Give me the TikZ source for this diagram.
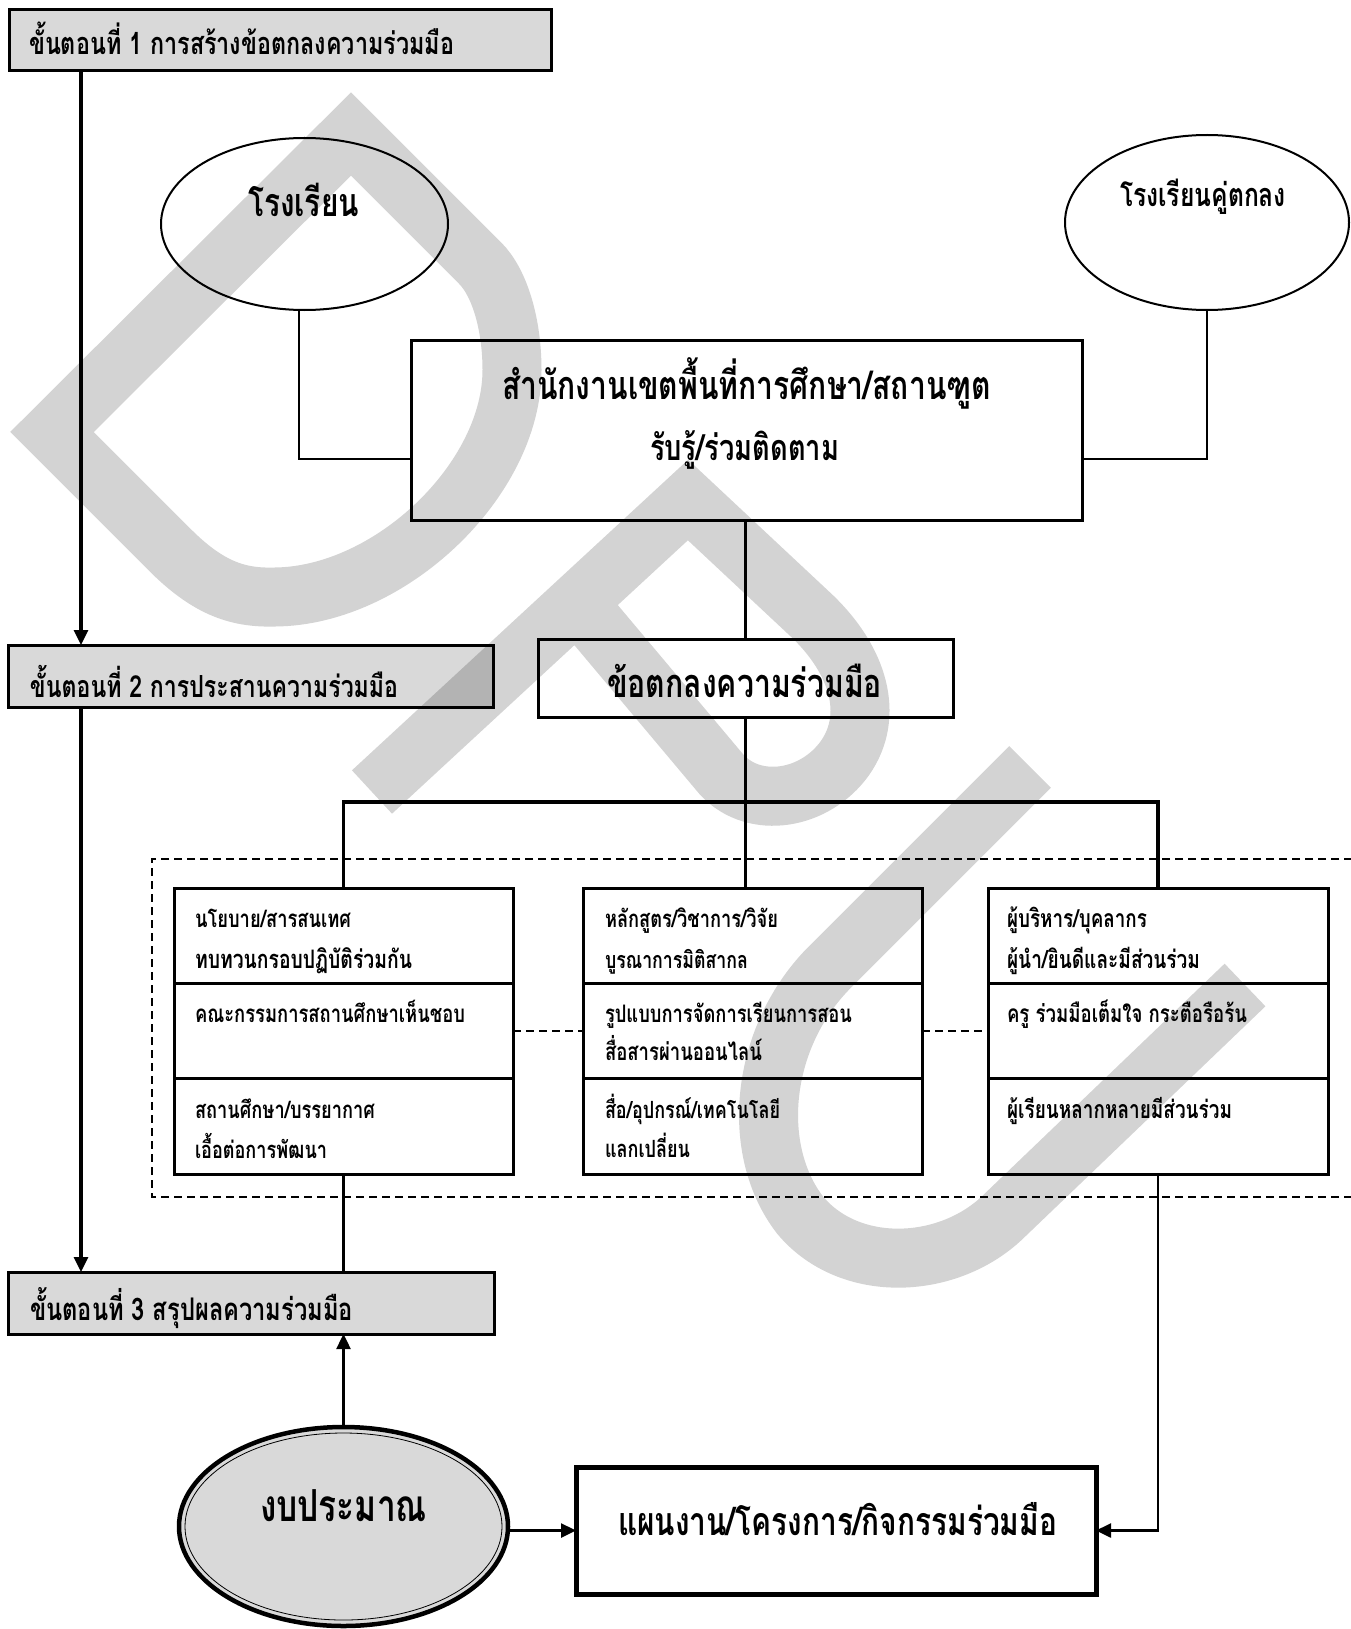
\documentclass[tikz,border=0pt]{standalone}
\usepackage{fontspec}
\usepackage{graphicx}
\usetikzlibrary{arrows.meta,shapes.geometric}
\newfontfamily\thaifont[Script=Thai,FakeStretch=0.76]{Loma}
\newcommand{\fitw}[2]{\resizebox{#1pt}{!}{\thaifont\bfseries #2}}
\definecolor{wm}{RGB}{211,211,211}
\definecolor{bud}{RGB}{217,217,217}
\tikzset{
  box/.style={draw, rectangle, inner sep=0pt, outer sep=0pt, line width=3pt},
  stepbox/.style={box, fill=black, fill opacity=0.15},
  ell/.style={draw, ellipse, inner sep=0pt, outer sep=0pt, line width=2pt},
  txt/.style={anchor=base west, inner sep=0pt, outer sep=0pt},
  wmline/.style={draw=wm, line width=59pt, line join=miter, line cap=butt},
  conn/.style={line width=3.2pt},
  thinc/.style={line width=1.6pt},
  dline/.style={line width=1.5pt, dash pattern=on 8pt off 5pt},
  arr/.style={-{Triangle[length=15pt,width=14pt]}}
}
\begin{document}
\begin{tikzpicture}[x=1pt,y=-1pt]
\fill[white] (0,0) rectangle (1350,1629);
\useasboundingbox (0,0) rectangle (1350,1629);

% watermark
\draw[wmline] (52,432) -- (170,550) .. controls (210,590) and (240,598) .. (275,597) .. controls (390,596) and (512,480) .. (512,370) .. controls (512,325) and (500,283) .. (480,263) -- (351,134) -- cycle;
\draw[wmline] (372,792) -- (688,500) -- (812,616) .. controls (858,660) and (875,715) .. (845,758) .. controls (815,800) and (755,810) .. (722,775) -- (575,600);
\draw[wmline] (1030,767) -- (827,970) .. controls (760,1040) and (750,1150) .. (800,1215) .. controls (850,1275) and (950,1270) .. (1005,1215) -- (1245,985);

% boxes
\node[stepbox, minimum width=542pt, minimum height=61pt] (s1) at (280,40.5) {};
\node[stepbox, minimum width=485pt, minimum height=62pt] (s2) at (250.5,676) {};
\node[stepbox, minimum width=486pt, minimum height=62pt] (s3) at (251,1303) {};
\node[ell, minimum width=287pt, minimum height=172pt] (school) at (304.5,224) {};
\node[ell, minimum width=284pt, minimum height=175pt] (partner) at (1207,222.5) {};
\node[box, minimum width=671pt, minimum height=180pt] (office) at (746.5,430) {};
\node[box, minimum width=415pt, minimum height=78pt] (agree) at (745.5,678) {};
\node[box, minimum width=339pt, minimum height=286pt] (colL) at (343.5,1031) {};
\node[box, minimum width=339pt, minimum height=286pt] (colM) at (752.5,1031) {};
\node[box, minimum width=340pt, minimum height=286pt] (colR) at (1158,1031) {};
\node[box, line width=5pt, minimum width=520pt, minimum height=127pt] (plan) at (836,1530.5) {};
\node[ell, line width=4.5pt, fill=bud, minimum width=329pt, minimum height=199pt] (budget) at (343.5,1526.5) {};
\node[ell, line width=0.8pt, minimum width=317pt, minimum height=187pt] (budgetin) at (budget.center) {};

% coordinates
\coordinate (xL) at (81,0);
\coordinate (sj) at (299,459);
\coordinate (pj) at (1207,459);
\coordinate (bar) at (746,802);
\coordinate (r1) at (0,983);
\coordinate (r2) at (0,1078);
\coordinate (dTL) at (152,859);
\coordinate (dBR) at (1352,1197);

% connectors
\draw[conn,arr] (s1.south -| xL) -- (s2.north -| xL);
\draw[conn,arr] (s2.south -| xL) -- (s3.north -| xL);
\draw[thinc] (school.south -| sj) -- (sj) -- (sj -| office.west);
\draw[thinc] (partner.south) -- (pj) -- (pj -| office.east);
\draw[conn] (office.south -| agree.north) -- (agree.north);
\draw[conn] (agree.south) -- (agree.south |- colM.north);
\draw[line width=3.6pt, line join=miter] (colL.north) -- (colL.north |- bar) -- (colR.north |- bar) -- (colR.north);
\foreach \c in {colL,colM,colR}{
  \draw[line width=3pt] (\c.west |- r1) -- (\c.east |- r1);
  \draw[line width=3pt] (\c.west |- r2) -- (\c.east |- r2);
}
\draw[dline] (colL.east) -- (colM.west);
\draw[dline] (colM.east) -- (colR.west);
\draw[dline] (dTL -| dBR) -- (dTL) -- (dTL |- dBR) -- (dBR);
\draw[conn] (colL.south) -- (colL.south |- s3.north);
\draw[line width=2.5pt, arr] (budget.north) -- (budget.north |- s3.south);
\draw[line width=2.5pt, arr] (plan.west -| budget.east) -- (plan.west);
\draw[line width=2.5pt, arr] (colR.south) -- (colR.south |- plan.east) -- (plan.east);

% texts
\node[txt] (ts1) at (29,55) {\fitw{425}{ขั้นตอนที่ 1 การสร้างข้อตกลงความร่วมมือ}};
\node[txt] (tschool) at (248,217) {\fitw{111}{โรงเรียน}};
\node[txt] (tpartner) at (1120,207) {\fitw{166}{โรงเรียนคู่ตกลง}};
\node[txt] (toff1) at (502,399) {\fitw{489}{สำนักงานเขตพื้นที่การศึกษา/สถานฑูต}};
\node[txt] (toff2) at (650,460) {\fitw{189}{รับรู้/ร่วมติดตาม}};
\node[txt] (ts2) at (30,697) {\fitw{368}{ขั้นตอนที่ 2 การประสานความร่วมมือ}};
\node[txt] (tagree) at (607,697) {\fitw{275}{ข้อตกลงความร่วมมือ}};
\node[txt] (tl1) at (195,927) {\fitw{156}{นโยบาย/สารสนเทศ}};
\node[txt] (tl2) at (195,968) {\fitw{217}{ทบทวนกรอบปฏิบัติร่วมกัน}};
\node[txt] (tl3) at (195,1022) {\fitw{270}{คณะกรรมการสถานศึกษาเห็นชอบ}};
\node[txt] (tl4) at (195,1118) {\fitw{180}{สถานศึกษา/บรรยากาศ}};
\node[txt] (tl5) at (195,1158) {\fitw{132}{เอื้อต่อการพัฒนา}};
\node[txt] (tm1) at (605,927) {\fitw{173}{หลักสูตร/วิชาการ/วิจัย}};
\node[txt] (tm2) at (605,968) {\fitw{143}{บูรณาการมิติสากล}};
\node[txt] (tm3) at (605,1022) {\fitw{247}{รูปแบบการจัดการเรียนการสอน}};
\node[txt] (tm4) at (605,1060) {\fitw{157}{สื่อสารผ่านออนไลน์}};
\node[txt] (tm5) at (605,1118) {\fitw{175}{สื่อ/อุปกรณ์/เทคโนโลยี}};
\node[txt] (tm6) at (605,1157) {\fitw{85}{แลกเปลี่ยน}};
\node[txt] (tr1) at (1007,927) {\fitw{140}{ผู้บริหาร/บุคลากร}};
\node[txt] (tr2) at (1007,968) {\fitw{193}{ผู้นำ/ยินดีและมีส่วนร่วม}};
\node[txt] (tr3) at (1007,1022) {\fitw{240}{ครู ร่วมมือเต็มใจ กระตือรือร้น}};
\node[txt] (tr4) at (1007,1118) {\fitw{225}{ผู้เรียนหลากหลายมีส่วนร่วม}};
\node[txt] (ts3) at (30,1320) {\fitw{323}{ขั้นตอนที่ 3 สรุปผลความร่วมมือ}};
\node[txt] (tbud) at (260,1521) {\fitw{167}{งบประมาณ}};
\node[txt] (tplan) at (618,1535) {\fitw{439}{แผนงาน/โครงการ/กิจกรรมร่วมมือ}};
\end{tikzpicture}
\end{document}
